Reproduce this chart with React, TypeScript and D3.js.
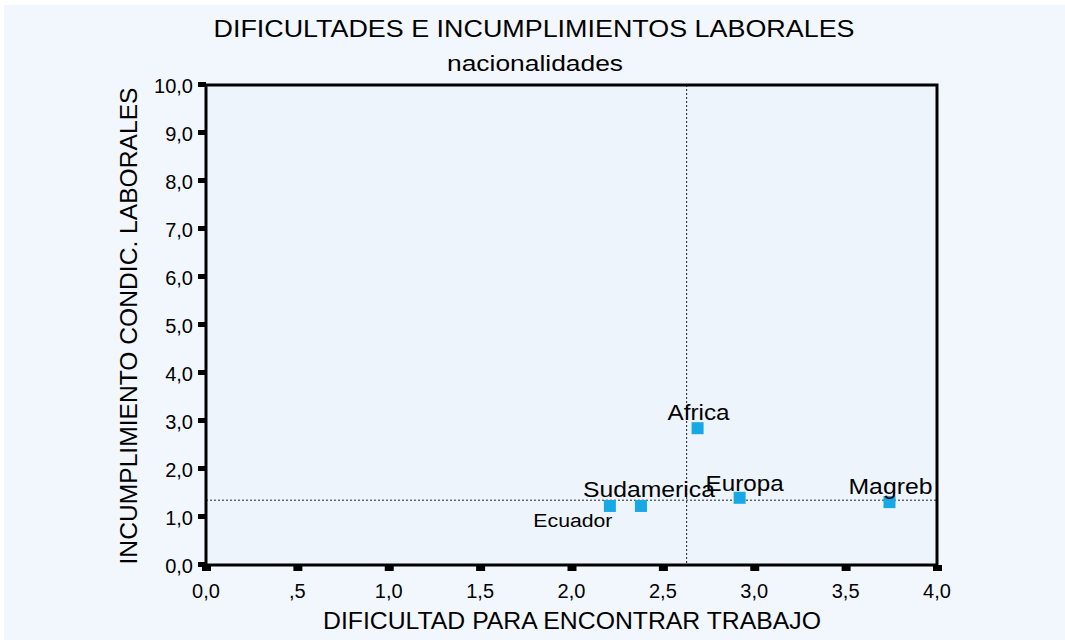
import * as d3 from "d3";

// nationalities plotted
const names = ["Ecuador", "Sudamerica", "Africa", "Europa", "Magreb"];
const dificultad = [2.21, 2.38, 2.69, 2.92, 3.74];
const incumplimiento = [1.23, 1.23, 2.85, 1.4, 1.31];

// reference lines (means)
const meanX = 2.63;
const meanY = 1.35;

const xTicks = [0, 0.5, 1, 1.5, 2, 2.5, 3, 3.5, 4];
const yTicks = [0, 1, 2, 3, 4, 5, 6, 7, 8, 9, 10];

const W = 1065;
const H = 640;
const font = "'Liberation Sans', Arial, Helvetica, sans-serif";

const x = d3.scaleLinear().domain([0, 4]).range([206, 937]);
const y = d3.scaleLinear().domain([0, 10]).range([565, 85]);

// spss style: "0,0", ",5", "1,0"
const fmtX = (v: number) => (v === 0 ? "0,0" : v < 1 ? ",5" : v.toFixed(1).replace(".", ","));
const fmtY = (v: number) => v.toFixed(1).replace(".", ",");

// label placement per point
const labelPos: Record<string, { dx: number; dy: number; size: number; len: number }> = {
  Ecuador: { dx: -37, dy: 21, size: 18, len: 79 },
  Sudamerica: { dx: 8, dy: -9, size: 22, len: 132 },
  Africa: { dx: 1, dy: -8, size: 22, len: 62 },
  Europa: { dx: 5, dy: -7, size: 22, len: 78 },
  Magreb: { dx: 1, dy: -8, size: 22, len: 84 },
};

function App() {
  const pts = names.map((n, i) => ({ name: n, cx: x(dificultad[i]), cy: y(incumplimiento[i]) }));
  return (
    <svg width={W} height={H} style={{ position: "absolute", left: 0, top: 0 }} fontFamily={font}>
      <rect x={0} y={0} width={W} height={H} fill="#ffffff" />
      <rect x={4} y={5} width={W - 4} height={H - 5} fill="#f2f7fd" />
      <rect x={x(0)} y={y(10)} width={x(4) - x(0)} height={y(0) - y(10)} fill="#edf4fc" />

      <text x={534} y={37} textAnchor="middle" fontSize={24} textLength={641} lengthAdjust="spacingAndGlyphs">
        DIFICULTADES E INCUMPLIMIENTOS LABORALES
      </text>
      <text x={535} y={71} textAnchor="middle" fontSize={22} textLength={176} lengthAdjust="spacingAndGlyphs">
        nacionalidades
      </text>

      {/* reference lines */}
      <line x1={x(meanX)} x2={x(meanX)} y1={y(10)} y2={y(0)} stroke="#222" strokeWidth={1} strokeDasharray="2,2" />
      <line x1={x(0)} x2={x(4)} y1={y(meanY)} y2={y(meanY)} stroke="#222" strokeWidth={1} strokeDasharray="2,2" />

      {/* frame */}
      <rect x={x(0)} y={y(10)} width={x(4) - x(0)} height={y(0) - y(10)} fill="none" stroke="#000" strokeWidth={3} />

      {yTicks.map((t) => (
        <g key={"y" + t}>
          <rect x={x(0) - 8} y={y(t) - 3} width={8} height={5} fill="#000" />
          <text x={x(0) - 13} y={y(t) + 8} textAnchor="end" fontSize={20}>
            {fmtY(t)}
          </text>
        </g>
      ))}
      {xTicks.map((t) => (
        <g key={"x" + t}>
          <rect x={x(t) - 4} y={y(0)} width={9} height={6} fill="#000" />
          <text x={x(t)} y={y(0) + 33} textAnchor="middle" fontSize={20}>
            {fmtX(t)}
          </text>
        </g>
      ))}

      <text x={572} y={629} textAnchor="middle" fontSize={23} textLength={498} lengthAdjust="spacingAndGlyphs">
        DIFICULTAD PARA ENCONTRAR TRABAJO
      </text>
      <text
        transform={`translate(137,${y(5) + 1}) rotate(-90)`}
        textAnchor="middle"
        fontSize={23}
        textLength={477}
        lengthAdjust="spacingAndGlyphs"
      >
        INCUMPLIMIENTO CONDIC. LABORALES
      </text>

      {pts.map((p) => (
        <rect key={p.name} x={p.cx - 6} y={p.cy - 6} width={12} height={12} fill="#18a8e6" />
      ))}
      {pts.map((p) => {
        const l = labelPos[p.name];
        return (
          <text
            key={"l" + p.name}
            x={p.cx + l.dx}
            y={p.cy + l.dy}
            textAnchor="middle"
            fontSize={l.size}
            textLength={l.len}
            lengthAdjust="spacingAndGlyphs"
          >
            {p.name}
          </text>
        );
      })}
    </svg>
  );
}

export default App;
